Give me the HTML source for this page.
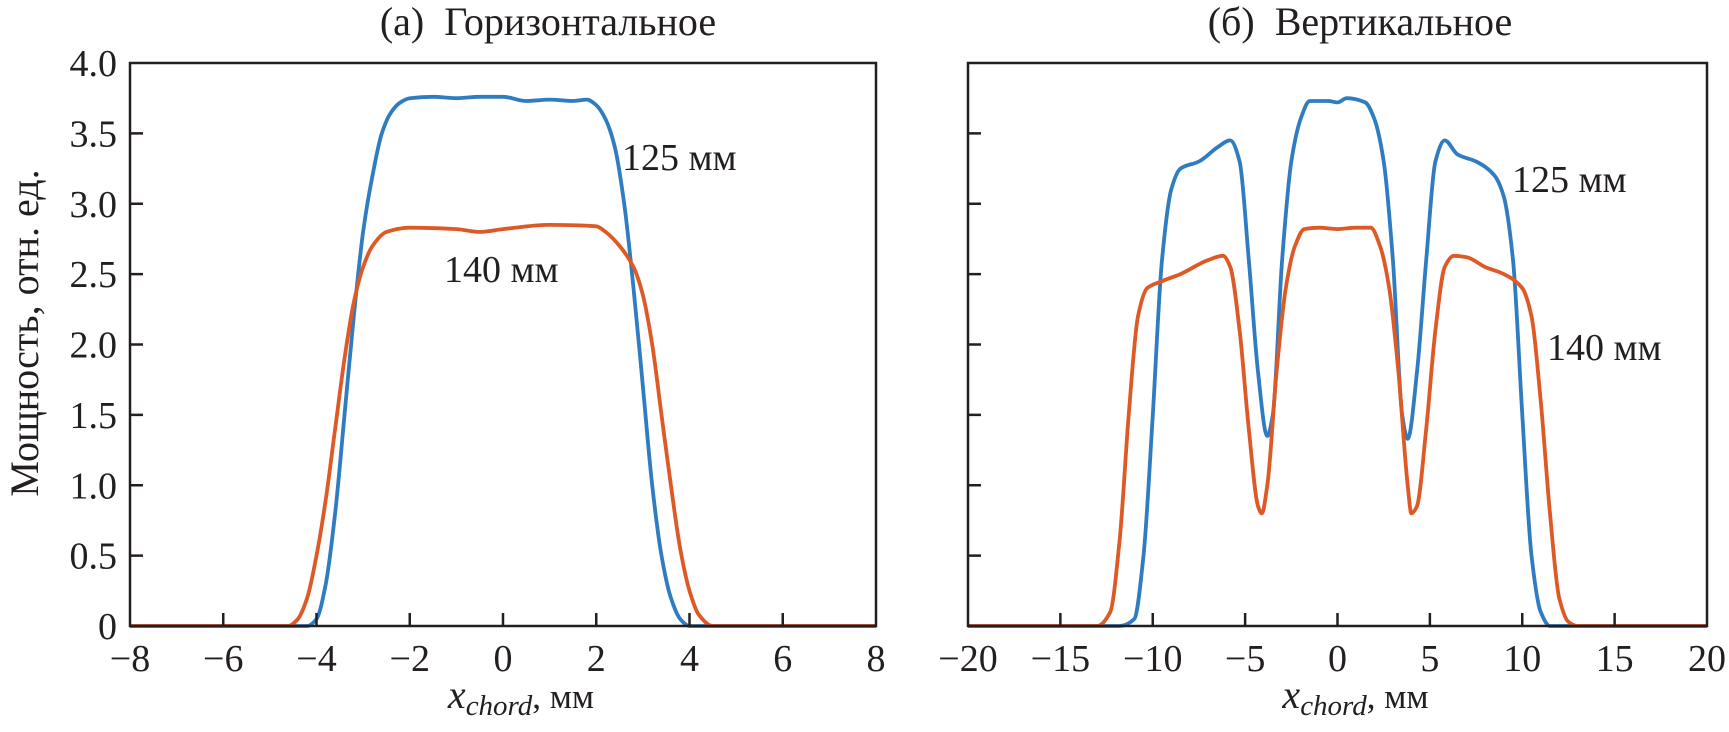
<!DOCTYPE html>
<html><head><meta charset="utf-8"><style>
html,body{margin:0;padding:0;background:#fff;}
svg{display:block;font-family:"Liberation Serif","DejaVu Serif",serif;}
</style></head><body>
<svg id="chart" width="1729" height="732" viewBox="0 0 1729 732" xmlns="http://www.w3.org/2000/svg"></svg>
<script>
// ---- data ----
const leftXTicks = [-8,-6,-4,-2,0,2,4,6,8];
const rightXTicks = [-20,-15,-10,-5,0,5,10,15,20];
const yTicks = [0,0.5,1.0,1.5,2.0,2.5,3.0,3.5,4.0];
const yTickLabels = ["0","0.5","1.0","1.5","2.0","2.5","3.0","3.5","4.0"];

const hBlueX = [-8,-4.2,-4.0,-3.8,-3.6,-3.4,-3.2,-3.0,-2.8,-2.6,-2.4,-2.2,-2.0,-1.5,-1.0,-0.5,0,0.5,1.0,1.5,1.8,2.0,2.2,2.4,2.6,2.8,3.0,3.2,3.4,3.6,3.8,4.0,8];
const hBlueY = [0,0,0.05,0.3,0.8,1.5,2.2,2.8,3.2,3.5,3.65,3.72,3.75,3.76,3.75,3.76,3.76,3.73,3.74,3.73,3.74,3.7,3.6,3.4,3.0,2.4,1.7,1.0,0.5,0.2,0.05,0,0];
const hOrangeX = [-8,-4.6,-4.4,-4.2,-4.0,-3.8,-3.6,-3.4,-3.2,-3.0,-2.8,-2.5,-2.0,-1.0,-0.5,0,1.0,2.0,2.2,2.5,2.8,3.0,3.2,3.4,3.6,3.8,4.0,4.2,4.5,8];
const hOrangeY = [0,0,0.05,0.2,0.5,0.9,1.4,1.9,2.3,2.55,2.7,2.8,2.83,2.82,2.8,2.82,2.85,2.84,2.8,2.7,2.55,2.35,2.0,1.5,1.0,0.55,0.25,0.08,0,0];

const vBlueX = [-20,-11.8,-11,-10.5,-10,-9.5,-9,-8.5,-7.5,-6.5,-5.8,-5.3,-4.8,-4.3,-3.8,-3.5,-3.0,-2.5,-2.0,-1.5,-0.5,0,0.5,1.5,2.0,2.5,3.0,3.5,3.8,4.3,4.8,5.3,5.8,6.5,7.5,8.5,9,9.5,10,10.5,11,11.5,20];
const vBlueY = [0,0,0.05,0.5,1.5,2.6,3.1,3.25,3.3,3.4,3.45,3.3,2.6,1.8,1.35,1.5,2.6,3.3,3.6,3.73,3.73,3.72,3.75,3.72,3.6,3.3,2.6,1.5,1.33,1.8,2.6,3.3,3.45,3.35,3.3,3.2,3.05,2.6,1.5,0.5,0.1,0,0];
const vOrangeX = [-20,-13,-12.3,-11.8,-11.3,-10.8,-10.3,-9.5,-8.5,-7,-6.2,-5.8,-5.3,-4.8,-4.3,-4.1,-3.8,-3.3,-2.8,-2.3,-1.8,-1,0,1,1.8,2.3,2.8,3.3,3.8,4.0,4.3,4.8,5.3,5.8,6.3,7,8,9,10,10.5,11,11.5,12,12.5,13,20];
const vOrangeY = [0,0,0.1,0.6,1.5,2.2,2.4,2.45,2.5,2.6,2.63,2.55,2.1,1.4,0.85,0.8,1.0,1.8,2.4,2.7,2.82,2.83,2.82,2.83,2.83,2.7,2.4,1.8,1.0,0.8,0.85,1.4,2.1,2.55,2.63,2.62,2.55,2.5,2.4,2.2,1.6,0.8,0.2,0.03,0,0];

// ---- drawing ----
const NS = "http://www.w3.org/2000/svg";
const svg = document.getElementById("chart");
const TOP = 63, BOT = 626;
function yS(v){ return BOT - (v/4)*(BOT-TOP); }
function mk(tag, attrs, parent){ const e=document.createElementNS(NS,tag); for(const k in attrs) e.setAttribute(k,attrs[k]); (parent||svg).appendChild(e); return e; }
function monoPath(pts){
  const n=pts.length, dx=[], m=[], t=[];
  for(let i=0;i<n-1;i++){ dx[i]=pts[i+1][0]-pts[i][0]; m[i]=(pts[i+1][1]-pts[i][1])/dx[i]; }
  t[0]=m[0]; t[n-1]=m[n-2];
  for(let i=1;i<n-1;i++){ t[i] = (m[i-1]*m[i]<=0) ? 0 : 3*(dx[i-1]+dx[i])/((2*dx[i]+dx[i-1])/m[i-1]+(dx[i]+2*dx[i-1])/m[i]); }
  let d="M"+pts[0][0].toFixed(1)+" "+pts[0][1].toFixed(1);
  for(let i=0;i<n-1;i++){
    const h=dx[i]/3;
    d+="C"+(pts[i][0]+h).toFixed(1)+" "+(pts[i][1]+t[i]*h).toFixed(1)+" "+(pts[i+1][0]-h).toFixed(1)+" "+(pts[i+1][1]-t[i+1]*h).toFixed(1)+" "+pts[i+1][0].toFixed(1)+" "+pts[i+1][1].toFixed(1);
  }
  return d;
}

const BLUE="#2f7cc0", ORANGE="#dd5a27";
const panels = [
  {x0:130,x1:876,min:-8,max:8,ticks:leftXTicks,showY:true,title:"(а)\u00a0\u00a0Горизонтальное",tx:548,name:"horizontal",
   series:[[hBlueX,hBlueY,BLUE,"125"],[hOrangeX,hOrangeY,ORANGE,"140"]],
   notes:[["125 мм",622,170],["140 мм",444,282]]},
  {x0:968,x1:1707,min:-20,max:20,ticks:rightXTicks,showY:false,title:"(б)\u00a0\u00a0Вертикальное",tx:1360,name:"vertical",
   series:[[vBlueX,vBlueY,BLUE,"125"],[vOrangeX,vOrangeY,ORANGE,"140"]],
   notes:[["125 мм",1512,192],["140 мм",1547,360]]}
];

panels.forEach(p=>{
  const g = mk("g",{});
  
  
  const xS = v => p.x0 + (v-p.min)/(p.max-p.min)*(p.x1-p.x0);
  p.series.forEach(s=>{
    const pts = s[0].map((xv,i)=>[xS(xv), yS(s[1][i])]);
    const path = mk("path",{d:monoPath(pts),fill:"none",stroke:s[2],"stroke-width":3.8,"stroke-linejoin":"round"},g);
    
    
  });
  const fr = mk("rect",{x:p.x0,y:TOP,width:p.x1-p.x0,height:BOT-TOP,fill:"none",stroke:"#231f20","stroke-width":2.5},g);
  
  
  p.ticks.forEach(t=>{
    const x=xS(t);
    if(t!==p.min && t!==p.max) mk("line",{x1:x,x2:x,y1:BOT,y2:BOT-13,stroke:"#231f20","stroke-width":2.5},g);
    const lb = mk("text",{x:x,y:671,"text-anchor":"middle","font-size":38,fill:"#231f20"},g);
    lb.textContent = (t<0?"\u2212":"")+Math.abs(t);
    
    
  });
  yTicks.forEach((t,i)=>{
    const y=yS(t);
    if(i>0 && i<yTicks.length-1) mk("line",{x1:p.x0,x2:p.x0+13,y1:y,y2:y,stroke:"#231f20","stroke-width":2.5},g);
    if(p.showY){
      const lb = mk("text",{x:117,y:y+13,"text-anchor":"end","font-size":38,fill:"#231f20"},g);
      lb.textContent = yTickLabels[i];
      
      
    }
  });
  const ti = mk("text",{x:p.tx,y:35,"text-anchor":"middle","font-size":40,fill:"#231f20"},g);
  ti.textContent = p.title;
  
  
  const xt = mk("text",{x:(p.x0+p.x1)/2+18,y:708,"text-anchor":"middle","font-size":35,fill:"#231f20"},g);
  xt.innerHTML = '<tspan font-style="italic" font-size="40">x</tspan><tspan font-style="italic" font-size="29" dy="7">chord</tspan><tspan dy="-7">, мм</tspan>';
  
  
  p.notes.forEach(n=>{
    const t = mk("text",{x:n[1],y:n[2],"font-size":38,fill:"#231f20"},g);
    t.textContent = n[0];
    
    
  });
});
const yl = mk("text",{x:0,y:0,transform:"translate(38,333) rotate(-90)","text-anchor":"middle","font-size":40,fill:"#231f20"});
yl.textContent = "Мощность, отн. ед.";


</script>
</body></html>
